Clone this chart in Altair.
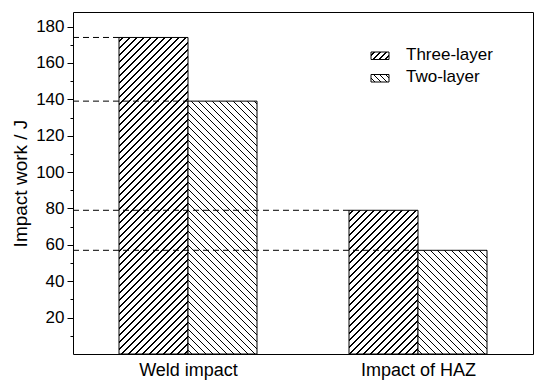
import altair as alt
import pandas as pd

# ---- data ----
categories = ["Weld impact", "Impact of HAZ"]
series = ["Three-layer", "Two-layer"]
three_layer = [174, 79]
two_layer = [139, 57]
y_ticks = list(range(10, 190, 10))

FONT = "Liberation Sans, Arial"
W, H = 460, 342
XMAX, YMAX = 4, 188
BAR = 0.6  # bar width in x data units

rows = []
for ci, cat in enumerate(categories):
    for si, (name, vals) in enumerate(zip(series, [three_layer, two_layer])):
        rows.append({"category": cat, "series": name, "value": vals[ci], "ci": ci, "si": si})
df = pd.DataFrame(rows)


def hatch(w, h, forward, period=7.0, lw=1.3):
    L = w + h
    k = L / (w * w + h * h)
    stops = []
    s = period / 2
    while s < L:
        a = s / L
        b = min((s + lw) / L, 1.0)
        stops += [
            {"offset": a, "color": "white"},
            {"offset": a, "color": "black"},
            {"offset": b, "color": "black"},
            {"offset": b, "color": "white"},
        ]
        s += period
    if forward:
        x1, y1, x2, y2 = 0, 0, w * k, h * k
    else:
        x1, y1, x2, y2 = 0, 1, w * k, 1 - h * k
    return {"gradient": "linear", "x1": x1, "y1": y1, "x2": x2, "y2": y2, "stops": stops}


xscale = alt.Scale(domain=[0, XMAX], nice=False, zero=False)
yscale = alt.Scale(domain=[0, YMAX], nice=False)

label_expr = " : ".join(
    [f"datum.value == {1 + 2 * i} ? '{c}'" for i, c in enumerate(categories)]
) + " : ''"

base = alt.Chart(df).transform_calculate(
    x0=f"1 + 2 * datum.ci - {BAR} + {BAR} * datum.si",
    x1=f"1 + 2 * datum.ci + {BAR} * datum.si",
    zx="0",
    zy="0",
)

x_axis = alt.Axis(
    values=[1 + 2 * i for i in range(len(categories))],
    labelExpr=label_expr,
    title=None,
    domain=False,
    ticks=False,
    tickSize=0,
    grid=False,
    labelFont=FONT,
    labelFontSize=18,
    labelColor="black",
    labelPadding=7,
)
y_axis = alt.Axis(
    values=y_ticks,
    labelExpr="datum.value % 20 == 0 ? datum.label : ''",
    tickSize={"condition": {"test": "datum.value % 20 == 0", "value": 6}, "value": 3},
    tickColor="black",
    domain=False,
    grid=False,
    title="Impact work / J",
    titleFont=FONT,
    titleFontSize=19,
    titleFontWeight="normal",
    titleColor="black",
    titlePadding=5,
    labelFont=FONT,
    labelFontSize=17,
    labelColor="black",
    labelPadding=3,
)

layers = []
for i, r in df.iterrows():
    w = BAR * W / XMAX
    h = r["value"] * H / YMAX
    grad = hatch(w, h, forward=(r["si"] == 0))
    layer = base.transform_filter(
        f"datum.ci == {r['ci']} && datum.si == {r['si']}"
    ).mark_bar(fill=grad, stroke="black", strokeWidth=1).encode(
        x=alt.X("x0:Q", scale=xscale, axis=x_axis),
        x2="x1:Q",
        y=alt.Y("value:Q", scale=yscale, axis=y_axis),
        y2="zy:Q",
    )
    layers.append(layer)

rules = base.mark_rule(color="black", strokeWidth=1, strokeDash=[6, 4]).encode(
    x=alt.X("zx:Q", scale=xscale, axis=x_axis),
    x2="x0:Q",
    y=alt.Y("value:Q", scale=yscale, axis=y_axis),
)
layers.append(rules)

# legend (drawn manually because of the hatch fills)
leg_y = [40, 62.5]
for i, name in enumerate(series):
    sw = alt.Chart(pd.DataFrame({"label": [name]})).mark_rect(
        fill=hatch(18, 7.5, forward=(i == 0), period=6.0, lw=1.3),
        stroke="black",
        strokeWidth=1,
    ).encode(
        x=alt.value(298), x2=alt.value(316), y=alt.value(leg_y[i]), y2=alt.value(leg_y[i] + 7.5)
    )
    tx = alt.Chart(pd.DataFrame({"label": [name]})).mark_text(
        align="left", baseline="middle", font=FONT, fontSize=17, color="black"
    ).encode(x=alt.value(333), y=alt.value(leg_y[i] + 2.5), text="label:N")
    layers += [sw, tx]

chart = alt.layer(*layers).properties(
    width=W,
    height=H,
    background="white",
    autosize=alt.AutoSizeParams(type="none"),
    padding={"left": 65, "top": 4, "right": 13, "bottom": 37},
).configure_view(stroke="black", strokeWidth=1)

chart.save("out.html", embed_options={"renderer": "svg", "actions": False})
